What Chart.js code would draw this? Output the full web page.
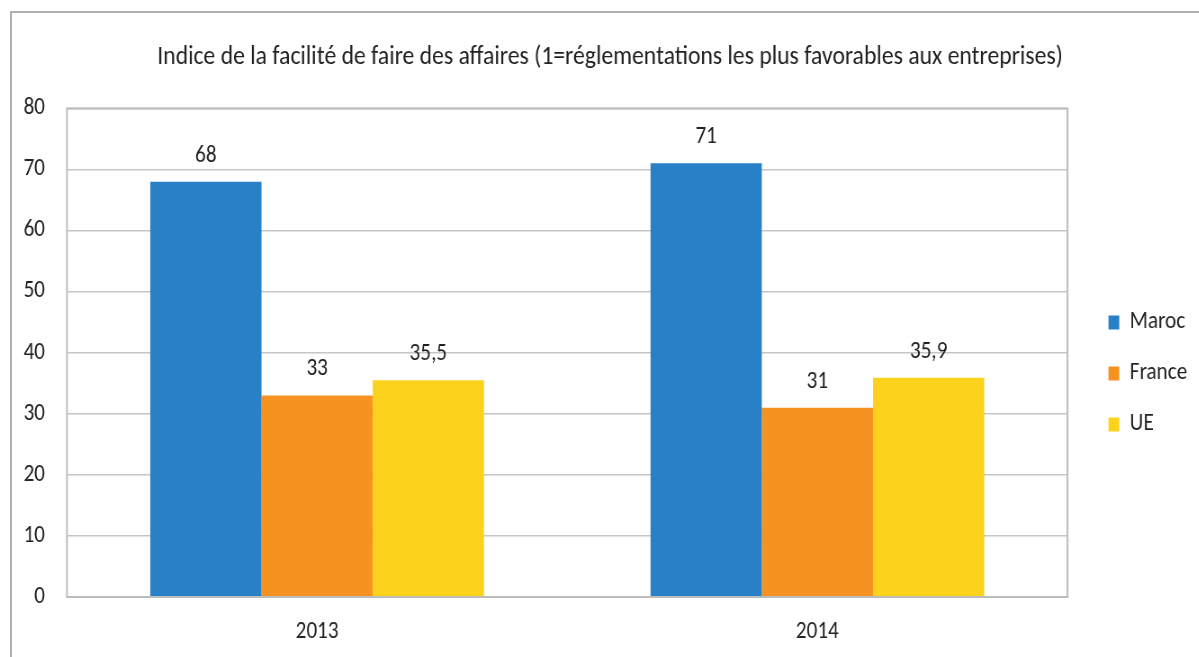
<!DOCTYPE html>
<html>
<head>
<meta charset="utf-8">
<script src="https://cdn.jsdelivr.net/npm/chart.js@4.4.0/dist/chart.umd.min.js"></script>
<style>
html,body{margin:0;padding:0;background:#fff;overflow:hidden;}
#wrap{position:relative;width:1199px;height:657px;overflow:hidden;}
#frame{position:absolute;left:10px;top:11px;width:1250px;height:700px;border:2px solid #b0b0b0;box-sizing:border-box;}
#c{position:absolute;left:0;top:0;transform:scaleX(0.9);transform-origin:0 0;}
</style>
</head>
<body>
<div id="wrap">
<div id="frame"></div>
<canvas id="c" width="1360" height="657"></canvas>
</div>
<script>
const categories = ['2013', '2014'];
const maroc = [68, 71];
const france = [33, 31];
const ue = [35.5, 35.9];
const seriesNames = ['Maroc', 'France', 'UE'];
const yTicks = [0, 10, 20, 30, 40, 50, 60, 70, 80];

const FONT = "Carlito, Calibri, 'Liberation Sans', sans-serif";
const TXT = '#222222';

const valueLabels = {
  id: 'valueLabels',
  afterDatasetsDraw(chart) {
    const ctx = chart.ctx;
    ctx.save();
    ctx.font = '23.5px ' + FONT;
    ctx.fillStyle = TXT;
    ctx.textAlign = 'center';
    ctx.textBaseline = 'alphabetic';
    chart.data.datasets.forEach((ds, i) => {
      const meta = chart.getDatasetMeta(i);
      meta.data.forEach((bar, j) => {
        const v = ds.data[j];
        ctx.fillText(String(v).replace('.', ','), bar.x, bar.y - 20);
      });
    });
    ctx.restore();
  }
};

const plotBorder = {
  id: 'plotBorder',
  afterDraw(chart) {
    const a = chart.chartArea;
    const ctx = chart.ctx;
    ctx.save();
    ctx.strokeStyle = '#bdbdbd';
    ctx.lineWidth = 2;
    ctx.strokeRect(a.left, a.top, a.right - a.left, a.bottom - a.top);
    ctx.restore();
  }
};

new Chart(document.getElementById('c'), {
  type: 'bar',
  data: {
    labels: categories,
    datasets: [
      { label: seriesNames[0], data: maroc, backgroundColor: '#2880c6' },
      { label: seriesNames[1], data: france, backgroundColor: '#f6921f' },
      { label: seriesNames[2], data: ue, backgroundColor: '#fdd21c' }
    ]
  },
  options: {
    responsive: false,
    animation: false,
    layout: { padding: { left: 26.5, right: 30.9, top: 0, bottom: 0 } },
    datasets: { bar: { categoryPercentage: 0.667, barPercentage: 1.0 } },
    plugins: {
      title: {
        display: true,
        text: 'Indice de la facilité de faire des affaires (1=réglementations les plus favorables aux entreprises)',
        color: TXT,
        font: { family: FONT, size: 26.3, weight: 'normal', lineHeight: 1.2 },
        padding: { top: 41.4, bottom: 35.4 }
      },
      legend: {
        position: 'right',
        align: 'center',
        title: { display: true, text: '', font: { size: 10, lineHeight: 1.2 }, padding: 39 },
        labels: {
          color: TXT,
          font: { family: FONT, size: 23.5 },
          boxWidth: 12,
          boxHeight: 14,
          padding: 27.5
        }
      },
      tooltip: { enabled: false }
    },
    scales: {
      x: {
        afterFit(scale) { scale.height = 60; },
        grid: { display: false, drawTicks: false },
        border: { display: false },
        ticks: { color: TXT, font: { family: FONT, size: 23.5 }, padding: 21 }
      },
      y: {
        min: 0, max: 80,
        afterBuildTicks(scale) { scale.ticks = yTicks.map(v => ({ value: v })); },
        afterFit(scale) { scale.width = 47.9; },
        grid: { color: '#c6c6c6', lineWidth: 1.5, drawTicks: false },
        border: { display: false },
        ticks: { color: TXT, font: { family: FONT, size: 23.5 }, padding: 24.4 }
      },
      y2: {
        position: 'right',
        display: true,
        grid: { display: false, drawTicks: false },
        border: { display: false },
        ticks: { display: false },
        afterFit(scale) { scale.width = 18; }
      }
    }
  },
  plugins: [valueLabels, plotBorder]
});
</script>
</body>
</html>
